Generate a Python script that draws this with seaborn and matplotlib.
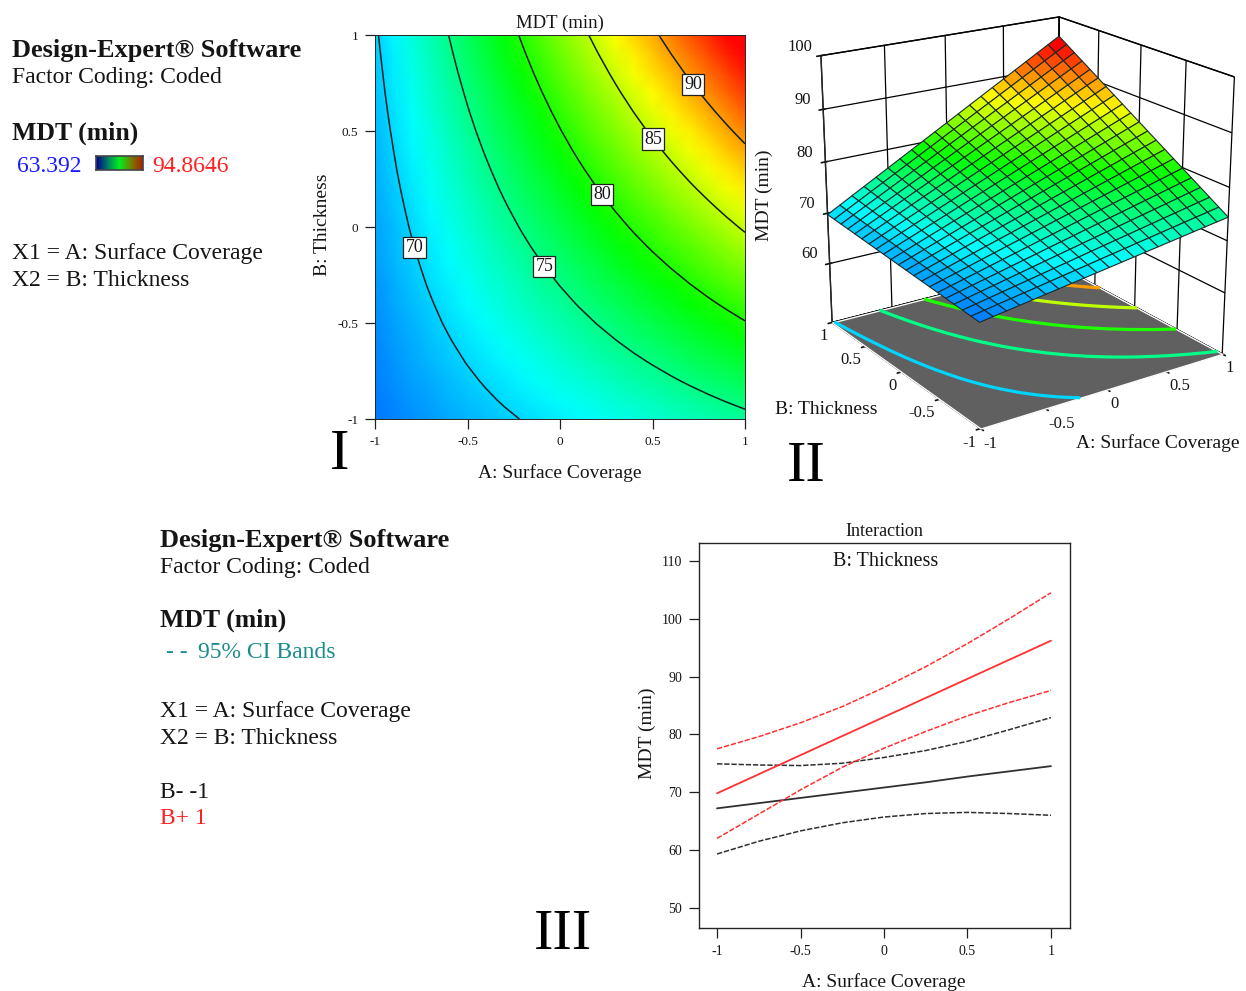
import numpy as np
import pandas as pd
import matplotlib
matplotlib.use("Agg")
import matplotlib.pyplot as plt
import seaborn as sns
from matplotlib.colors import LinearSegmentedColormap

# coded factor levels of the surface table
surface_a = [-1.0, -0.9, -0.8, -0.7, -0.6, -0.5, -0.4, -0.3, -0.2, -0.1, 0.0, 0.1, 0.2, 0.3, 0.4, 0.5, 0.6, 0.7, 0.8, 0.9, 1.0]
surface_b = [-1.0, -0.9, -0.8, -0.7, -0.6, -0.5, -0.4, -0.3, -0.2, -0.1, 0.0, 0.1, 0.2, 0.3, 0.4, 0.5, 0.6, 0.7, 0.8, 0.9, 1.0]

# MDT values, one row per thickness level
surface_mdt = [
    [67.15,67.52,67.88,68.25,68.61,68.98,69.34,69.71,70.07,70.44,70.80,71.17,71.53,71.90,72.26,72.63,72.99,73.36,73.72,74.09,74.45],
    [67.28,67.69,68.11,68.52,68.93,69.34,69.76,70.17,70.58,70.99,71.41,71.82,72.23,72.65,73.06,73.47,73.88,74.30,74.71,75.12,75.53],
    [67.41,67.87,68.33,68.79,69.25,69.71,70.17,70.63,71.09,71.55,72.02,72.48,72.94,73.40,73.86,74.32,74.78,75.24,75.70,76.16,76.62],
    [67.54,68.05,68.56,69.06,69.57,70.08,70.59,71.10,71.61,72.11,72.62,73.13,73.64,74.15,74.66,75.16,75.67,76.18,76.69,77.20,77.71],
    [67.67,68.23,68.78,69.34,69.89,70.45,71.01,71.56,72.12,72.67,73.23,73.79,74.34,74.90,75.45,76.01,76.57,77.12,77.68,78.23,78.79],
    [67.80,68.40,69.01,69.61,70.22,70.82,71.42,72.03,72.63,73.23,73.84,74.44,75.05,75.65,76.25,76.86,77.46,78.06,78.67,79.27,79.88],
    [67.93,68.58,69.23,69.88,70.54,71.19,71.84,72.49,73.14,73.79,74.45,75.10,75.75,76.40,77.05,77.70,78.35,79.01,79.66,80.31,80.96],
    [68.06,68.76,69.46,70.16,70.86,71.56,72.26,72.95,73.65,74.35,75.05,75.75,76.45,77.15,77.85,78.55,79.25,79.95,80.65,81.35,82.05],
    [68.19,68.94,69.68,70.43,71.18,71.93,72.67,73.42,74.17,74.91,75.66,76.41,77.15,77.90,78.65,79.40,80.14,80.89,81.64,82.38,83.13],
    [68.32,69.11,69.91,70.70,71.50,72.29,73.09,73.88,74.68,75.47,76.27,77.06,77.86,78.65,79.45,80.24,81.04,81.83,82.63,83.42,84.22],
    [68.45,69.29,70.14,70.98,71.82,72.66,73.51,74.35,75.19,76.03,76.88,77.72,78.56,79.40,80.25,81.09,81.93,82.77,83.62,84.46,85.30],
    [68.58,69.47,70.36,71.25,72.14,73.03,73.92,74.81,75.70,76.59,77.48,78.37,79.26,80.15,81.04,81.93,82.82,83.71,84.60,85.49,86.38],
    [68.71,69.65,70.59,71.52,72.46,73.40,74.34,75.28,76.21,77.15,78.09,79.03,79.97,80.90,81.84,82.78,83.72,84.66,85.59,86.53,87.47],
    [68.84,69.83,70.81,71.80,72.78,73.77,74.75,75.74,76.73,77.71,78.70,79.68,80.67,81.65,82.64,83.63,84.61,85.60,86.58,87.57,88.56],
    [68.97,70.00,71.04,72.07,73.10,74.14,75.17,76.20,77.24,78.27,79.31,80.34,81.37,82.41,83.44,84.47,85.51,86.54,87.57,88.61,89.64],
    [69.10,70.18,71.26,72.34,73.43,74.51,75.59,76.67,77.75,78.83,79.91,81.00,82.08,83.16,84.24,85.32,86.40,87.48,88.56,89.64,90.72],
    [69.23,70.36,71.49,72.62,73.75,74.88,76.00,77.13,78.26,79.39,80.52,81.65,82.78,83.91,85.04,86.17,87.29,88.42,89.55,90.68,91.81],
    [69.36,70.54,71.71,72.89,74.07,75.24,76.42,77.60,78.77,79.95,81.13,82.30,83.48,84.66,85.84,87.01,88.19,89.37,90.54,91.72,92.90],
    [69.49,70.71,71.94,73.16,74.39,75.61,76.84,78.06,79.29,80.51,81.74,82.96,84.18,85.41,86.63,87.86,89.08,90.31,91.53,92.76,93.98],
    [69.62,70.89,72.16,73.44,74.71,75.98,77.25,78.52,79.80,81.07,82.34,83.61,84.89,86.16,87.43,88.70,89.98,91.25,92.52,93.79,95.07],
    [69.75,71.07,72.39,73.71,75.03,76.35,77.67,78.99,80.31,81.63,82.95,84.27,85.59,86.91,88.23,89.55,90.87,92.19,93.51,94.83,96.15],
]

contour_levels = [70, 75, 80, 85, 90]
mdt_min = 63.392
mdt_max = 94.8646

# interaction plot, thickness at -1 (black) and +1 (red)
coverage = [-1, -0.75, -0.5, -0.25, 0, 0.25, 0.5, 0.75, 1]
low_mean = [67.2, 68.1, 69.0, 69.9, 70.8, 71.7, 72.7, 73.6, 74.5]
low_upper = [74.9, 74.7, 74.6, 75.0, 76.0, 77.2, 78.8, 80.8, 82.9]
low_lower = [59.3, 61.5, 63.3, 64.7, 65.7, 66.3, 66.5, 66.3, 66.0]
high_mean = [69.8, 73.1, 76.4, 79.7, 83.0, 86.3, 89.6, 92.9, 96.2]
high_upper = [77.5, 79.6, 82.0, 84.8, 88.1, 91.7, 95.7, 100.0, 104.5]
high_lower = [62.0, 66.2, 70.4, 74.3, 77.6, 80.5, 83.2, 85.5, 87.6]

W, H = 1246, 991
SERIF = "Liberation Serif"

sns.set_theme(style="ticks", rc={"grid.color": "black", "grid.linewidth": 0.9})
plt.rcParams["font.family"] = [SERIF, "DejaVu Serif"]
plt.rcParams["axes.linewidth"] = 1.0

rainbow = LinearSegmentedColormap.from_list("rainbow5", ["#0000ff", "#00ffff", "#00ff00", "#ffff00", "#ff0000"])
legend_map = LinearSegmentedColormap.from_list("legend3", ["#000090", "#008060", "#00f020", "#708000", "#b02000"])

fig = plt.figure(figsize=(W / 100, H / 100), dpi=100)


def add_axes(left, top, right, bottom, **kw):
    return fig.add_axes([left / W, 1 - bottom / H, (right - left) / W, (bottom - top) / H], **kw)


def put(x, y, s, size=17, color="#151515", **kw):
    kw.setdefault("va", "center")
    return fig.text(x / W, 1 - (y + 2) / H, s, fontsize=size, color=color, **kw)


A, B = np.meshgrid(surface_a, surface_b)
Z = np.array(surface_mdt)

# left legend
put(12, 49, "Design-Expert® Software", size=19, weight="bold")
put(12, 76, "Factor Coding: Coded")
put(12, 131, "MDT (min)", size=18.5, weight="bold")
put(17, 165, "63.392", color="#1a1aff")
put(152, 165, "94.8646", color="#ff2020")
put(12, 252, "X1 = A: Surface Coverage")
put(12, 279, "X2 = B: Thickness")

bar = add_axes(96, 156, 143, 170)
bar.imshow(np.linspace(0, 1, 64).reshape(1, -1), aspect="auto", cmap=legend_map)
bar.set_xticks([])
bar.set_yticks([])
for s in bar.spines.values():
    s.set_color("#444444")
    s.set_linewidth(1.2)

# panel I: contour plot
ax1 = add_axes(375, 35, 745, 419)
ax1.pcolormesh(A, B, Z, shading="gouraud", cmap=rainbow, vmin=mdt_min, vmax=mdt_max, rasterized=True)
cs = ax1.contour(A, B, Z, levels=contour_levels, colors="#102020", linewidths=1.1)
labels = ax1.clabel(cs, fmt="%d", inline=False, fontsize=13,
                    manual=[(-0.778, -0.104), (-0.07, -0.193), (0.243, 0.182), (0.519, 0.469), (0.735, 0.755)])
for t in labels:
    t.set_rotation(0)
    t.set_transform_rotates_text(False)
    t.set_color("#151515")
    t.set_bbox(dict(boxstyle="square,pad=0.12", fc="white", ec="#202020", lw=0.9))
ax1.set_xlim(-1, 1)
ax1.set_ylim(-1, 1)
ax1.set_xticks([-1, -0.5, 0, 0.5, 1], ["-1", "-0.5", "0", "0.5", "1"])
ax1.set_yticks([-1, -0.5, 0, 0.5, 1], ["-1", "-0.5", "0", "0.5", "1"])
ax1.tick_params(length=7, width=0.9, labelsize=9.5, pad=5, color="#202020", labelcolor="#151515")
ax1.set_title("MDT (min)", fontsize=13.5, pad=5, color="#151515")
ax1.set_xlabel("A: Surface Coverage", fontsize=14, color="#151515")
ax1.xaxis.set_label_coords(0.5, -0.117)
ax1.set_ylabel("B: Thickness", fontsize=14, color="#151515")
ax1.yaxis.set_label_coords(-0.12, 0.505)
for s in ax1.spines.values():
    s.set_linewidth(0.7)

# panel II: response surface
ax2 = add_axes(782, -13, 1252, 437, projection="3d", computed_zorder=False)
ax2.patch.set_alpha(0)
floor = 48
ax2.set_xlim(-1, 1)
ax2.set_ylim(-1, 1)
ax2.set_zlim(floor, 100)
ax2.set_box_aspect((1, 1, 1.0), zoom=1.08)
ax2.view_init(elev=20, azim=-124)
ax2.set_proj_type("persp", focal_length=0.7)
# opaque floor so the wall grid does not run across it
ax2.plot_surface(A[[0, -1]][:, [0, -1]], B[[0, -1]][:, [0, -1]], np.full((2, 2), floor), color="#606060",
                 shade=False, zorder=1)
ax2.contour(A, B, Z, levels=contour_levels, zdir="z", offset=floor, cmap=rainbow,
            vmin=mdt_min, vmax=mdt_max, linewidths=2.3, zorder=2)
ax2.plot_surface(A, B, Z, rstride=1, cstride=1, cmap=rainbow, vmin=mdt_min, vmax=mdt_max,
                 edgecolor="#1a2a2a", linewidth=0.8, shade=False, zorder=3)
ax2.xaxis.set_pane_color("white")
ax2.yaxis.set_pane_color("white")
ax2.zaxis.set_pane_color("#606060")
for axis in (ax2.xaxis, ax2.yaxis, ax2.zaxis):
    axis.pane.set_edgecolor("black")
    axis.pane.set_linewidth(1.0)
ax2.set_xticks([-1, -0.5, 0, 0.5, 1], ["-1", "-0.5", "0", "0.5", "1"])
ax2.set_yticks([-1, -0.5, 0, 0.5, 1], ["-1", "-0.5", "0", "0.5", "1"])
ax2.set_zticks([60, 70, 80, 90, 100], ["60", "70", "80", "90", "100"])
ax2.tick_params(labelsize=12, colors="#151515")
ax2.tick_params(axis="x", pad=-5)
ax2.tick_params(axis="y", pad=-5)
ax2.tick_params(axis="z", pad=1)
for t in ax2.get_zticklabels():
    t.set_va("bottom")
for t in ax2.get_xticklabels():
    t.set_ha("left")
for t in ax2.get_yticklabels():
    t.set_ha("right")
put(764, 193, "MDT (min)", size=14, rotation=90, ha="center")
put(826, 408, "B: Thickness", size=14, ha="center")
put(1158, 441, "A: Surface Coverage", size=14, ha="center")

# bottom legend
put(160, 538, "Design-Expert® Software", size=19, weight="bold")
put(160, 565, "Factor Coding: Coded")
put(160, 618, "MDT (min)", size=18.5, weight="bold")
put(166, 650, "- -", color="#1a8c8c")
put(198, 651, "95% CI Bands", color="#1a8c8c")
put(160, 710, "X1 = A: Surface Coverage")
put(160, 737, "X2 = B: Thickness")
put(160, 790, "B- -1")
put(160, 817, "B+ 1", color="#ff2020")

# panel III: interaction
ax3 = add_axes(699, 543, 1070, 928)
for vals, col, dashed in [(low_upper, "#303030", True), (low_mean, "#303030", False), (low_lower, "#303030", True),
                          (high_upper, "#ff3030", True), (high_mean, "#ff3030", False), (high_lower, "#ff3030", True)]:
    line = pd.DataFrame({"coverage": coverage, "mdt": vals})
    sns.lineplot(data=line, x="coverage", y="mdt", ax=ax3, color=col, linewidth=1.1 if dashed else 1.3,
                 linestyle=(0, (3.5, 1.2)) if dashed else "-")
ax3.set_xlim(-1.108, 1.114)
ax3.set_ylim(46.5, 113.1)
ax3.set_xticks([-1, -0.5, 0, 0.5, 1], ["-1", "-0.5", "0", "0.5", "1"])
ax3.set_yticks([50, 60, 70, 80, 90, 100, 110])
ax3.tick_params(length=7, width=0.9, labelsize=10, pad=5, color="#202020", labelcolor="#151515")
ax3.set_title("Interaction", fontsize=13, pad=5, color="#151515")
ax3.text(0.502, 0.953, "B: Thickness", transform=ax3.transAxes, fontsize=14.5, ha="center", va="center", color="#151515")
ax3.set_xlabel("A: Surface Coverage", fontsize=14, color="#151515")
ax3.xaxis.set_label_coords(0.497, -0.117)
ax3.set_ylabel("MDT (min)", fontsize=14, color="#151515")
ax3.yaxis.set_label_coords(-0.117, 0.505)

# panel numbers
put(340, 453, "I", size=42, color="black", ha="center")
put(806, 465, "II", size=42, color="black", ha="center")
put(563, 933, "III", size=42, color="black", ha="center")

fig.savefig("out.png", dpi=100)
